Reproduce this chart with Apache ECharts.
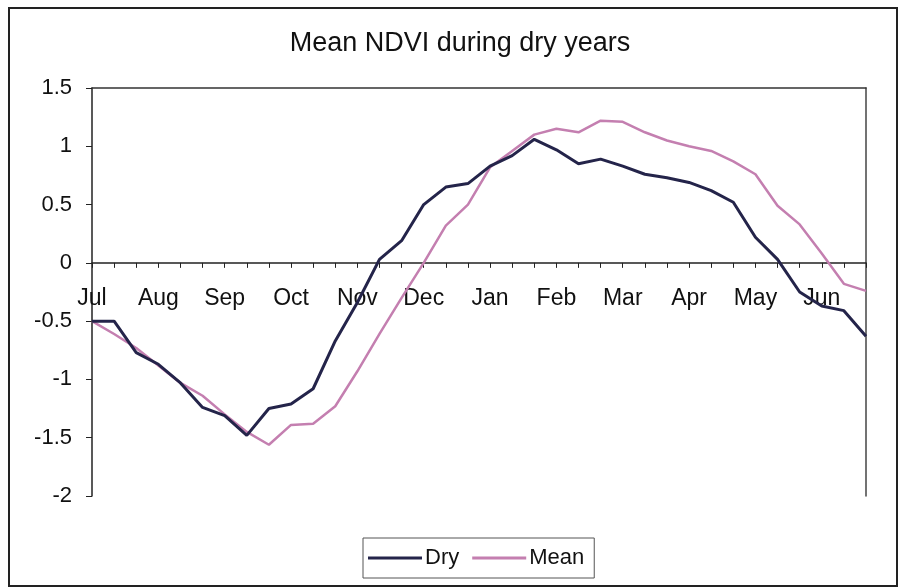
<!DOCTYPE html>
<html lang="en">
<head>
  <meta charset="UTF-8">
  <title>Mean NDVI during dry years</title>
  <style>
    html, body { margin: 0; padding: 0; background: #fff; }
  </style>
</head>
<body>
  <div id="main" style="width: 903px;height:588px;"></div>

  <script src="https://cdn.jsdelivr.net/npm/echarts@6/dist/echarts.min.js"></script>
  <script>
    // three dekads per month, July to June
    const months = ['Jul', 'Aug', 'Sep', 'Oct', 'Nov', 'Dec', 'Jan', 'Feb', 'Mar', 'Apr', 'May', 'Jun'];
    const dekads = [1, 2, 3];
    const categories = [];
    months.forEach(m => dekads.forEach(d => categories.push(m + ' ' + d)));

    const dryValues = [
      -0.50, -0.50, -0.77, -0.87, -1.03, -1.24, -1.31, -1.48, -1.25, -1.21,
      -1.08, -0.67, -0.34, 0.03, 0.19, 0.50, 0.65, 0.68, 0.83, 0.92,
      1.06, 0.97, 0.85, 0.89, 0.83, 0.76, 0.73, 0.69, 0.62, 0.52,
      0.22, 0.03, -0.25, -0.37, -0.41, -0.63
    ];
    const meanValues = [
      -0.50, -0.61, -0.73, -0.88, -1.03, -1.14, -1.30, -1.45, -1.56, -1.39,
      -1.38, -1.23, -0.93, -0.61, -0.30, 0.00, 0.32, 0.50, 0.82, 0.96,
      1.10, 1.15, 1.12, 1.22, 1.21, 1.12, 1.05, 1.00, 0.96, 0.87,
      0.76, 0.49, 0.33, 0.08, -0.18, -0.24
    ];

    const yMin = -2;
    const yMax = 1.5;
    const font = 'Liberation Sans, Arial, sans-serif';
    const myChart = echarts.init(document.getElementById('main'));

    const gridTop = 88;
    const gridBottom = 92;
    const plotHeight = 588 - gridTop - gridBottom;
    // move the category axis up so it sits on y = 0
    const zeroOffset = -plotHeight * (0 - yMin) / (yMax - yMin);

    const options = {
      backgroundColor: '#fff',
      animation: false,
      textStyle: { fontFamily: font, color: '#111' },
      title: {
        text: 'Mean NDVI during dry years',
        left: 460,
        textAlign: 'center',
        top: 30,
        padding: 0,
        textStyle: { fontFamily: font, fontSize: 27, fontWeight: 'normal', color: '#111' }
      },
      graphic: [{
        type: 'rect',
        shape: { x: 9, y: 8, width: 888, height: 578 },
        style: { fill: 'none', stroke: '#222', lineWidth: 2 },
        silent: true
      }],
      legend: {
        left: 363,
        top: 538,
        padding: [9, 10, 9, 5],
        borderColor: '#555',
        borderWidth: 1,
        itemWidth: 54,
        itemHeight: 3,
        itemGap: 13,
        icon: 'rect',
        textStyle: { fontFamily: font, fontSize: 22, color: '#111', padding: [0, 0, 0, -2] },
        data: ['Dry', 'Mean']
      },
      grid: {
        left: 92,
        right: 37,
        top: gridTop,
        bottom: gridBottom
      },
      xAxis: [{
        type: 'category',
        data: categories,
        boundaryGap: false,
        offset: zeroOffset,
        axisLine: { onZero: false, lineStyle: { color: '#222', width: 1.5 } },
        axisTick: { show: true, interval: 0, length: 5, lineStyle: { color: '#222' } },
        axisLabel: {
          interval: 2,
          margin: 24,
          fontSize: 23,
          color: '#111',
          fontFamily: font,
          formatter: v => v.split(' ')[0]
        },
        splitLine: { show: false }
      }, {
        type: 'category',
        data: categories,
        position: 'top',
        boundaryGap: false,
        axisLine: { onZero: false, lineStyle: { color: '#333', width: 1.5 } },
        axisTick: { show: false },
        axisLabel: { show: false },
        splitLine: { show: false }
      }],
      yAxis: [{
        type: 'value',
        min: yMin,
        max: yMax,
        interval: 0.5,
        axisLine: { show: true, onZero: false, lineStyle: { color: '#222', width: 1.5 } },
        axisTick: { show: true, length: 6, lineStyle: { color: '#222' } },
        axisLabel: { margin: 20, fontSize: 22, color: '#111', fontFamily: font },
        splitLine: { show: false }
      }, {
        type: 'value',
        min: yMin,
        max: yMax,
        interval: 0.5,
        position: 'right',
        axisLine: { show: true, onZero: false, lineStyle: { color: '#444', width: 1.5 } },
        axisTick: { show: false },
        axisLabel: { show: false },
        splitLine: { show: false }
      }],
      series: [
        {
          name: 'Dry',
          type: 'line',
          data: dryValues,
          showSymbol: false,
          symbol: 'none',
          color: '#24244a',
          lineStyle: { color: '#24244a', width: 3 },
          z: 3
        },
        {
          name: 'Mean',
          type: 'line',
          data: meanValues,
          showSymbol: false,
          symbol: 'none',
          color: '#c47fb0',
          lineStyle: { color: '#c47fb0', width: 2.5 },
          z: 2
        }
      ]
    };

    myChart.setOption(options);
  </script>
</body>
</html>
